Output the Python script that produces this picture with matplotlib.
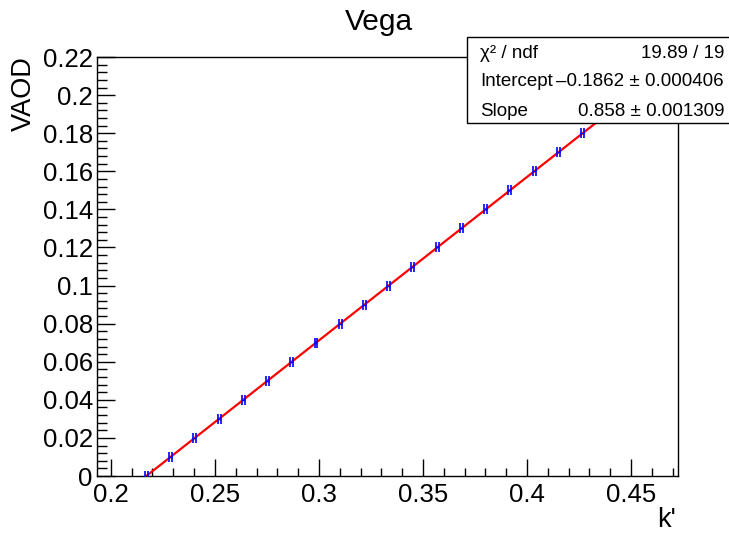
import numpy as np
import matplotlib
matplotlib.use("Agg")
import matplotlib.pyplot as plt
from matplotlib.ticker import MultipleLocator

plt.rcParams['font.family'] = ['Liberation Sans', 'DejaVu Sans']

# data
k_prime = [0.2170, 0.2287, 0.2403, 0.2520, 0.2637, 0.2753, 0.2870, 0.2986,
           0.3103, 0.3219, 0.3336, 0.3452, 0.3569, 0.3685, 0.3802, 0.3918,
           0.4035, 0.4152, 0.4268, 0.4385, 0.4501]
vaod = [0.00, 0.01, 0.02, 0.03, 0.04, 0.05, 0.06, 0.07, 0.08, 0.09, 0.10,
        0.11, 0.12, 0.13, 0.14, 0.15, 0.16, 0.17, 0.18, 0.19, 0.20]
k_err = 0.0007

chi2, ndf = 19.89, 19
intercept, intercept_err = -0.1862, 0.000406
slope, slope_err = 0.858, 0.001309

fig = plt.figure(figsize=(7.29, 5.34), dpi=100)
ax = fig.add_axes([0.133, 0.1086, 0.797, 0.7846])

x = np.array(k_prime)
xs = np.linspace(x.min(), x.max(), 200)
ax.plot(xs, intercept + slope * xs, color='red', lw=1.6, zorder=2)
ax.errorbar(k_prime, vaod, xerr=k_err, fmt='none', ecolor='blue',
            elinewidth=1, capsize=3.3, capthick=1.2, zorder=3)

ax.set_xlim(0.1933, 0.4726)
ax.set_ylim(0, 0.22)
ax.xaxis.set_major_locator(MultipleLocator(0.05))
ax.xaxis.set_minor_locator(MultipleLocator(0.01))
ax.yaxis.set_major_locator(MultipleLocator(0.02))
ax.yaxis.set_minor_locator(MultipleLocator(0.004))
ax.xaxis.set_major_formatter(plt.FuncFormatter(lambda v, p: f"{v:g}"))
ax.yaxis.set_major_formatter(plt.FuncFormatter(lambda v, p: f"{round(v, 3):g}"))
ax.tick_params(which='both', direction='in', top=False, right=False,
               labelsize=18.5, width=1)
ax.tick_params(axis='x', which='major', length=12, pad=5)
ax.tick_params(axis='x', which='minor', length=6)
ax.tick_params(axis='y', which='major', length=13, pad=3)
ax.tick_params(axis='y', which='minor', length=7)
for s in ax.spines.values():
    s.set_linewidth(1)

fig.text(379 / 729, 1 - 22 / 534, "Vega", ha='center', va='center', fontsize=21.5)
fig.text(0.033, 1 - 56 / 534, "VAOD", rotation=90, ha='center', va='top', fontsize=19.5)
fig.text(676 / 729, 7 / 534, "k'", ha='right', va='baseline', fontsize=19.5)

# stats box (runs off the right edge like the reference)
bx0, by0, bx1, by1 = 467 / 729, 1 - 123 / 534, 1.02, 1 - 37 / 534
fig.patches.append(plt.Rectangle((bx0, by0), bx1 - bx0, by1 - by0,
                                 transform=fig.transFigure, facecolor='white',
                                 edgecolor='black', lw=1, zorder=5))
rows = [("\u03c7\u00b2 / ndf", f"{chi2:.2f} / {ndf}"),
        ("Intercept", f"\u2013{abs(intercept):.4f} \u00b1 {intercept_err:.6f}"),
        ("Slope", f"{slope:.3f} \u00b1 {slope_err:.6f}")]
ys = [1 - 53 / 534, 1 - 82 / 534, 1 - 111 / 534]
for (lab, val), yy in zip(rows, ys):
    fig.text(480 / 729, yy, lab, ha='left', va='center', fontsize=13.5, zorder=6)
    fig.text(724 / 729, yy, val, ha='right', va='center', fontsize=13.5, zorder=6)

fig.savefig("out.png", dpi=100)
